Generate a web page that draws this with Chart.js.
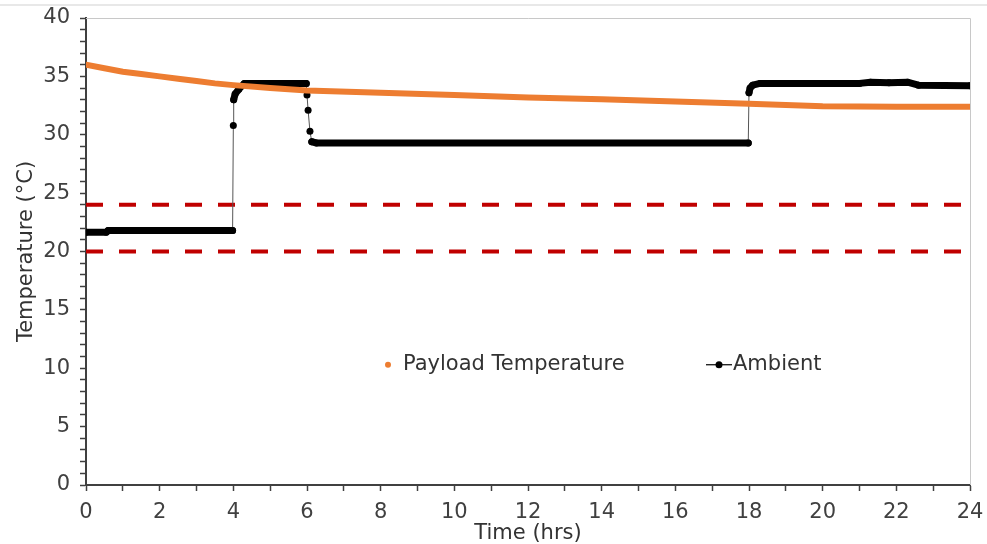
<!DOCTYPE html>
<html>
<head>
<meta charset="utf-8">
<script src="https://cdn.jsdelivr.net/npm/chart.js@4.4.1/dist/chart.umd.min.js"></script>
<style>
  html, body { margin: 0; padding: 0; background: #fff; }
  #wrap { width: 987px; height: 544px; position: relative; }
</style>
</head>
<body>
<div id="wrap"><canvas id="chart"></canvas></div>
<script>
// Payload temperature (hrs, °C)
const payloadHours = [0, 0.5, 1, 1.5, 2, 2.5, 3, 3.5, 4, 5, 6, 8, 10, 12, 14, 16, 18, 19, 20, 22, 24];
const payloadTemps = [36.0, 35.7, 35.4, 35.2, 35.0, 34.8, 34.6, 34.4, 34.25, 34.0, 33.8, 33.6, 33.4, 33.2, 33.05, 32.85, 32.65, 32.55, 32.45, 32.4, 32.4];

// Ambient (hrs, °C)
const ambientHours = [0, 0.55, 0.6, 3.98, 4.0, 4.01, 4.05, 4.15, 4.3, 5.98, 6.0, 6.03, 6.08, 6.13, 6.25, 17.98, 18.0, 18.03, 18.1, 18.3, 21.0, 21.3, 21.8, 22.3, 22.6, 24];
const ambientTemps = [21.65, 21.65, 21.8, 21.8, 30.8, 33.0, 33.5, 33.9, 34.4, 34.4, 33.4, 32.1, 30.3, 29.4, 29.3, 29.3, 33.6, 34.0, 34.25, 34.4, 34.4, 34.5, 34.45, 34.5, 34.25, 34.2];

// Acceptable range limits
const limitHours = [0, 24];
const upperLimit = [24, 24];
const lowerLimit = [20, 20];

const xTicks = { min: 0, max: 24, step: 2 };
const yTicks = { min: 0, max: 40, step: 5 };

const toPoints = (xs, ys) => xs.map((x, i) => ({ x: x, y: ys[i] }));

const FONT = '"DejaVu Sans", sans-serif';
const AXIS = '#404040';

const framePlugin = {
  id: 'frame',
  beforeDraw(chart) {
    const ctx = chart.ctx;
    ctx.save();
    ctx.strokeStyle = '#e8e8e8';
    ctx.lineWidth = 2;
    ctx.beginPath();
    ctx.moveTo(0, 5);
    ctx.lineTo(chart.width, 5);
    ctx.stroke();
    ctx.restore();
  },
  afterDraw(chart) {
    const { ctx, chartArea: a } = chart;
    ctx.save();
    // light top/right border
    ctx.strokeStyle = '#c8c8c8';
    ctx.lineWidth = 1;
    ctx.beginPath();
    ctx.moveTo(a.left, a.top + 0.5);
    ctx.lineTo(a.right + 0.5, a.top + 0.5);
    ctx.lineTo(a.right + 0.5, a.bottom);
    ctx.stroke();

    // legend inside the plot
    const ly = chart.scales.y.getPixelForValue(10.3);
    ctx.fillStyle = '#ed7d31';
    ctx.beginPath();
    ctx.arc(388, ly, 3, 0, Math.PI * 2);
    ctx.fill();
    ctx.fillStyle = '#333';
    ctx.font = '21px ' + FONT;
    ctx.textBaseline = 'middle';
    ctx.fillText('Payload Temperature', 403, ly);

    ctx.strokeStyle = '#000';
    ctx.lineWidth = 1.2;
    ctx.beginPath();
    ctx.moveTo(706, ly);
    ctx.lineTo(732, ly);
    ctx.stroke();
    ctx.fillStyle = '#000';
    ctx.beginPath();
    ctx.arc(719, ly, 3.5, 0, Math.PI * 2);
    ctx.fill();
    ctx.fillStyle = '#333';
    ctx.fillText('Ambient', 733, ly);
    ctx.restore();
  }
};

const steep = (c) => Math.abs(c.p1.parsed.y - c.p0.parsed.y) > 0.6;

new Chart(document.getElementById('chart'), {
  type: 'scatter',
  data: {
    datasets: [
      {
        label: 'Payload Temperature',
        data: toPoints(payloadHours, payloadTemps),
        showLine: true,
        borderColor: '#ed7d31',
        backgroundColor: '#ed7d31',
        borderWidth: 6,
        borderCapStyle: 'round',
        pointRadius: 0
      },
      {
        label: 'Ambient',
        data: toPoints(ambientHours, ambientTemps),
        showLine: true,
        borderColor: '#000',
        backgroundColor: '#000',
        borderWidth: 7,
        borderCapStyle: 'round',
        borderJoinStyle: 'round',
        pointRadius: 3.5,
        pointBorderWidth: 0,
        segment: {
          borderWidth: c => steep(c) ? 1 : 7,
          borderColor: c => steep(c) ? '#555' : '#000'
        }
      },
      {
        label: 'Upper limit',
        data: toPoints(limitHours, upperLimit),
        showLine: true,
        borderColor: '#c00000',
        borderWidth: 4,
        borderDash: [17, 16],
        pointRadius: 0
      },
      {
        label: 'Lower limit',
        data: toPoints(limitHours, lowerLimit),
        showLine: true,
        borderColor: '#c00000',
        borderWidth: 4,
        borderDash: [17, 16],
        pointRadius: 0
      }
    ]
  },
  options: {
    responsive: true,
    maintainAspectRatio: false,
    animation: false,
    layout: { padding: { top: 18, right: 17, left: 0, bottom: 0 } },
    plugins: {
      legend: { display: false },
      tooltip: { enabled: false }
    },
    scales: {
      x: {
        type: 'linear',
        min: xTicks.min,
        max: xTicks.max,
        afterFit: s => { s.height = 59; s.paddingLeft = 0; s.paddingRight = 0; },
        afterBuildTicks: s => {
          s.ticks = [];
          for (let v = xTicks.min; v <= xTicks.max; v += 1) s.ticks.push({ value: v });
        },
        ticks: {
          autoSkip: false,
          maxRotation: 0,
          padding: 9,
          color: AXIS,
          font: { family: FONT, size: 21 },
          callback: v => (v % xTicks.step === 0 ? String(v) : '')
        },
        grid: {
          drawOnChartArea: false,
          drawTicks: true,
          tickLength: 6,
          tickColor: AXIS,
          tickWidth: 1.5
        },
        border: { display: true, color: AXIS, width: 2 },
        title: {
          display: true,
          text: 'Time (hrs)',
          color: '#333',
          font: { family: FONT, size: 21 },
          padding: { top: 0, bottom: -2 }
        }
      },
      y: {
        min: yTicks.min,
        max: yTicks.max,
        afterFit: s => { s.width = 86; s.paddingTop = 0; s.paddingBottom = 0; },
        afterBuildTicks: s => {
          s.ticks = [];
          for (let v = yTicks.min; v <= yTicks.max; v += 1) s.ticks.push({ value: v });
        },
        ticks: {
          autoSkip: false,
          padding: 10,
          color: AXIS,
          font: { family: FONT, size: 21 },
          callback: v => (v % yTicks.step === 0 ? String(v) : '')
        },
        grid: {
          drawOnChartArea: false,
          drawTicks: true,
          tickLength: 6,
          tickColor: AXIS,
          tickWidth: 1.5
        },
        border: { display: true, color: AXIS, width: 2 },
        title: {
          display: true,
          text: 'Temperature (°C)',
          color: '#333',
          font: { family: FONT, size: 21 },
          padding: { top: 14, bottom: 0 }
        }
      }
    }
  },
  plugins: [framePlugin]
});
</script>
</body>
</html>
